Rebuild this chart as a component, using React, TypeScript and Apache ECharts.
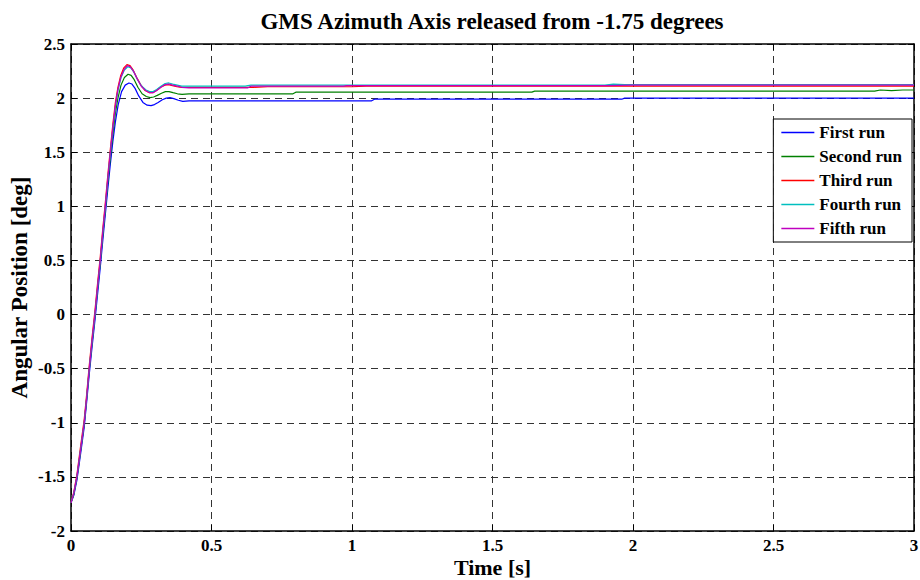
import React, { useEffect, useRef } from "react";
import * as echarts from "echarts";

const titleText = "GMS Azimuth Axis released from -1.75 degrees";
const xAxisName = "Time [s]";
const yAxisName = "Angular Position [deg]";
const seriesNames = ["First run", "Second run", "Third run", "Fourth run", "Fifth run"];
const seriesColors = ["#0000ff", "#008000", "#ff0000", "#00bfbf", "#bf00bf"];

const firstRun: [number, number][] = [
  [0, -1.74], [0.01, -1.67], [0.021, -1.53], [0.034, -1.29], [0.047, -1.04], [0.056, -0.8], [0.065, -0.55],
  [0.075, -0.3], [0.085, -0.06], [0.095, 0.2], [0.104, 0.43], [0.113, 0.68], [0.122, 0.92], [0.131, 1.16],
  [0.14, 1.39], [0.149, 1.6], [0.158, 1.78], [0.168, 1.94], [0.18, 2.06], [0.193, 2.12], [0.206, 2.14],
  [0.217, 2.13], [0.228, 2.09], [0.241, 2.02], [0.256, 1.96], [0.271, 1.935], [0.285, 1.93], [0.297, 1.94],
  [0.31, 1.96], [0.325, 1.985], [0.339, 2.0], [0.352, 2.005], [0.366, 1.995], [0.382, 1.98], [0.398, 1.97],
  [0.42, 1.975], [1.07, 1.975], [1.08, 1.99], [1.96, 1.99], [1.97, 2.0], [3.0, 2.0],
];

const secondRun: [number, number][] = [
  [0, -1.74], [0.01, -1.66], [0.021, -1.51], [0.034, -1.26], [0.047, -1.01], [0.056, -0.77], [0.065, -0.51],
  [0.075, -0.26], [0.085, -0.02], [0.095, 0.25], [0.104, 0.48], [0.113, 0.73], [0.122, 0.97], [0.131, 1.22],
  [0.14, 1.45], [0.149, 1.67], [0.158, 1.86], [0.167, 2.0], [0.178, 2.12], [0.19, 2.19], [0.203, 2.22],
  [0.214, 2.21], [0.225, 2.17], [0.238, 2.1], [0.253, 2.04], [0.268, 2.015], [0.282, 2.005], [0.294, 2.01],
  [0.307, 2.025], [0.322, 2.045], [0.336, 2.06], [0.349, 2.06], [0.363, 2.05], [0.379, 2.04], [0.395, 2.035],
  [0.42, 2.04], [0.79, 2.04], [0.8, 2.055], [1.64, 2.055], [1.65, 2.065], [2.86, 2.065], [2.88, 2.075],
  [2.92, 2.07], [2.96, 2.075], [3.0, 2.075],
];

const thirdRun: [number, number][] = [
  [0, -1.74], [0.01, -1.64], [0.021, -1.48], [0.034, -1.22], [0.047, -0.97], [0.056, -0.73], [0.065, -0.47],
  [0.075, -0.21], [0.085, 0.03], [0.095, 0.3], [0.104, 0.53], [0.113, 0.79], [0.122, 1.03], [0.131, 1.29],
  [0.14, 1.53], [0.149, 1.76], [0.158, 1.96], [0.167, 2.1], [0.177, 2.21], [0.188, 2.28], [0.199, 2.31],
  [0.21, 2.3], [0.221, 2.26], [0.234, 2.19], [0.249, 2.12], [0.264, 2.07], [0.279, 2.05], [0.291, 2.05],
  [0.304, 2.07], [0.319, 2.1], [0.334, 2.12], [0.347, 2.125], [0.361, 2.115], [0.377, 2.105], [0.394, 2.1],
  [0.42, 2.1], [0.65, 2.1], [0.7, 2.105], [1.0, 2.105], [1.05, 2.11], [3.0, 2.11],
];

const fourthRun: [number, number][] = [
  [0, -1.74], [0.01, -1.65], [0.021, -1.5], [0.034, -1.25], [0.047, -1.0], [0.056, -0.76], [0.065, -0.5],
  [0.075, -0.25], [0.085, -0.01], [0.095, 0.26], [0.104, 0.49], [0.113, 0.75], [0.122, 0.99], [0.131, 1.25],
  [0.14, 1.49], [0.149, 1.72], [0.158, 1.92], [0.167, 2.07], [0.178, 2.19], [0.19, 2.26], [0.202, 2.29],
  [0.213, 2.28], [0.224, 2.24], [0.237, 2.17], [0.252, 2.11], [0.267, 2.075], [0.28, 2.06], [0.292, 2.06],
  [0.305, 2.08], [0.32, 2.11], [0.335, 2.135], [0.348, 2.14], [0.362, 2.13], [0.378, 2.12], [0.394, 2.11],
  [0.42, 2.11], [0.62, 2.11], [0.64, 2.12], [1.9, 2.12], [1.93, 2.13], [1.97, 2.125], [3.0, 2.125],
];

const fifthRun: [number, number][] = [
  [0, -1.74], [0.01, -1.65], [0.021, -1.5], [0.034, -1.25], [0.047, -1.0], [0.056, -0.76], [0.065, -0.5],
  [0.075, -0.24], [0.085, 0], [0.095, 0.27], [0.104, 0.5], [0.113, 0.76], [0.122, 1.0], [0.131, 1.26],
  [0.14, 1.5], [0.149, 1.73], [0.158, 1.93], [0.167, 2.08], [0.177, 2.19], [0.188, 2.26], [0.2, 2.3],
  [0.211, 2.29], [0.222, 2.25], [0.235, 2.18], [0.25, 2.11], [0.265, 2.07], [0.28, 2.05], [0.292, 2.05],
  [0.305, 2.07], [0.32, 2.1], [0.335, 2.125], [0.348, 2.13], [0.362, 2.12], [0.378, 2.11], [0.394, 2.1],
  [0.42, 2.095], [0.63, 2.095], [0.64, 2.11], [0.97, 2.11], [0.98, 2.115], [1.9, 2.115], [2.0, 2.12], [3.0, 2.12],
];

const runs = [firstRun, secondRun, thirdRun, fourthRun, fifthRun];

const xMin = 0, xMax = 3, xStep = 0.5;
const yMin = -2, yMax = 2.5, yStep = 0.5;

const FONT = '"Liberation Serif", "Times New Roman", serif';

export default function App() {
  const ref = useRef<HTMLDivElement>(null);
  useEffect(() => {
    if (!ref.current) return;
    const chart = echarts.init(ref.current, undefined, { renderer: "svg" });
    const frameLine = { show: true, onZero: false, lineStyle: { color: "#000", width: 1.5 } };
    const tick = { show: true, inside: true, length: 6, lineStyle: { color: "#000", width: 1 } };
    const grid = { show: true, lineStyle: { color: "#333", width: 1, type: [7, 5] as number[] } };
    const labelStyle = { color: "#000", fontFamily: FONT, fontWeight: "bold" as const, fontSize: 17 };
    chart.setOption({
      animation: false,
      backgroundColor: "#fff",
      graphic: [
        {
          type: "text",
          x: 492,
          y: 21,
          style: {
            text: titleText,
            fontFamily: FONT,
            fontWeight: "bold",
            fontSize: 23,
            fill: "#000",
            align: "center",
            verticalAlign: "middle",
          },
        },
      ],
      grid: { left: 71, right: 6, top: 44, bottom: 49, containLabel: false, outerBoundsMode: "none" },
      legend: {
        data: seriesNames,
        orient: "vertical",
        right: 8,
        top: 119,
        backgroundColor: "#fff",
        borderColor: "#000",
        borderWidth: 1,
        padding: [5, 10, 5, 8],
        icon: "rect",
        itemWidth: 33,
        itemHeight: 1.5,
        itemGap: 7,
        textStyle: { ...labelStyle, fontSize: 17, lineHeight: 17 },
      },
      xAxis: [
        {
          type: "value",
          min: xMin,
          max: xMax,
          interval: xStep,
          position: "bottom",
          name: xAxisName,
          nameLocation: "middle",
          nameGap: 26,
          nameMoveOverlap: false,
          nameTextStyle: { ...labelStyle, fontSize: 22, lineHeight: 20 },
          axisLine: frameLine,
          axisTick: tick,
          axisLabel: { ...labelStyle, margin: 6, lineHeight: 16 },
          splitLine: grid,
        },
        {
          type: "value",
          min: xMin,
          max: xMax,
          interval: xStep,
          position: "top",
          axisLine: frameLine,
          axisTick: tick,
          axisLabel: { show: false },
          splitLine: { show: false },
        },
      ],
      yAxis: [
        {
          type: "value",
          min: yMin,
          max: yMax,
          interval: yStep,
          position: "left",
          name: yAxisName,
          nameLocation: "middle",
          nameGap: 40,
          nameMoveOverlap: false,
          nameTextStyle: { ...labelStyle, fontSize: 23 },
          axisLine: frameLine,
          axisTick: tick,
          axisLabel: { ...labelStyle, margin: 6 },
          splitLine: grid,
        },
        {
          type: "value",
          min: yMin,
          max: yMax,
          interval: yStep,
          position: "right",
          axisLine: frameLine,
          axisTick: tick,
          axisLabel: { show: false },
          splitLine: { show: false },
        },
      ],
      series: runs.map((d, i) => ({
        name: seriesNames[i],
        type: "line",
        xAxisIndex: 0,
        yAxisIndex: 0,
        data: d,
        symbol: "none",
        showSymbol: false,
        lineStyle: { color: seriesColors[i], width: 1.2 },
        itemStyle: { color: seriesColors[i] },
        z: 3 + i,
      })),
    });
    return () => chart.dispose();
  }, []);
  return (
    <div
      ref={ref}
      style={{ position: "fixed", left: 0, top: 0, width: 920, height: 580, background: "#fff" }}
    />
  );
}
